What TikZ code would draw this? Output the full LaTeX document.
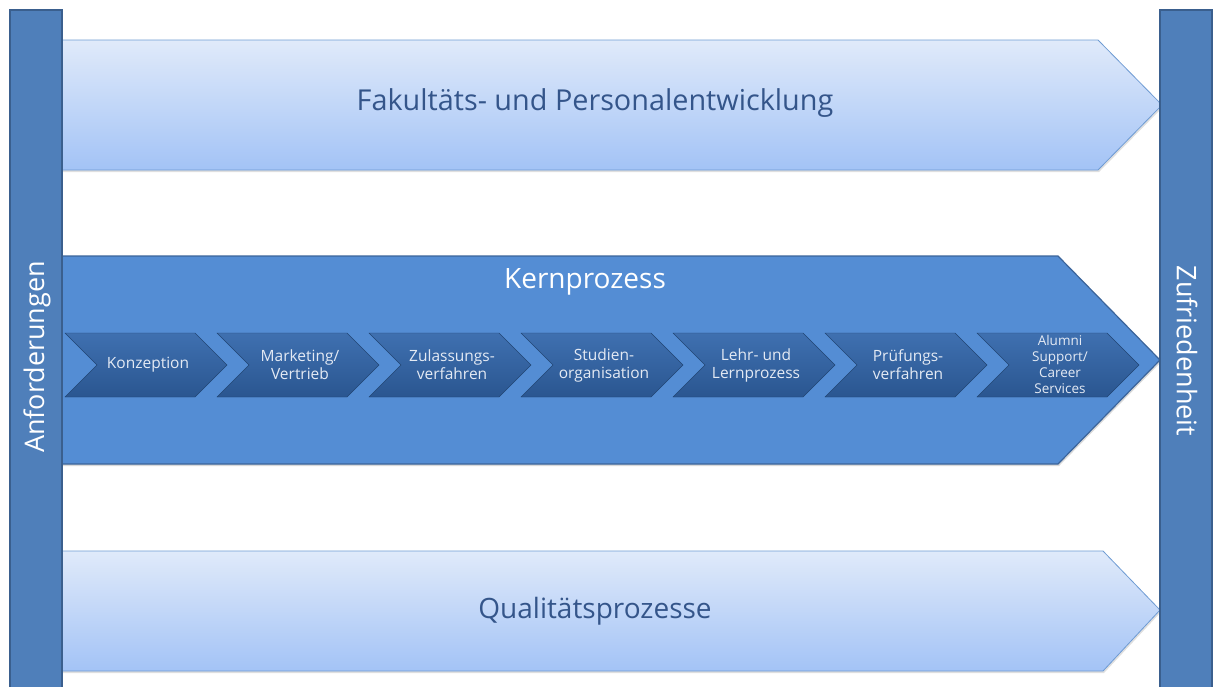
\documentclass[tikz,border=0pt]{standalone}
\usepackage{fontspec}
\setmainfont{Open Sans}
\usetikzlibrary{shadows}
\definecolor{barfill}{HTML}{4F7FBA}
\definecolor{barline}{HTML}{3A5F8E}
\definecolor{lighttop}{HTML}{E0EAFA}
\definecolor{lightbot}{HTML}{A3C3F6}
\definecolor{lightline}{HTML}{6E9BD3}
\definecolor{midfill}{HTML}{548DD4}
\definecolor{midline}{HTML}{3B649A}
\definecolor{chevtop}{HTML}{3F70B0}
\definecolor{chevbot}{HTML}{2A5690}
\definecolor{darktext}{HTML}{34558A}
\definecolor{chevtext}{HTML}{E4EAF4}
\tikzset{
  sidebar/.style={fill=barfill,draw=barline,line width=1.2pt},
  lightarrow/.style={top color=lighttop,bottom color=lightbot,draw=lightline,line width=0.8pt,
     drop shadow={shadow xshift=1pt,shadow yshift=-2pt,opacity=0.25}},
  midarrow/.style={fill=midfill,draw=midline,line width=1.2pt,
     drop shadow={shadow xshift=1pt,shadow yshift=-2pt,opacity=0.3}},
  chevron/.style={top color=chevtop,bottom color=chevbot,draw=chevbot!80!black,line width=0.4pt},
  bigtext/.style={font=\fontsize{28}{32}\selectfont,text=darktext},
  sidetext/.style={font=\fontsize{27}{30}\selectfont,text=white},
  chevlabel/.style={font=\fontsize{15.5}{18}\selectfont,text=chevtext,align=center},
}
\begin{document}
\begin{tikzpicture}[x=1pt,y=-1pt]
\useasboundingbox (0,0) rectangle (1214,686);
% top light arrow
\path[lightarrow] (62,40) -- (1098,40) -- (1162,105) -- (1098,170) -- (62,170) -- cycle;
\node[bigtext,font=\fontsize{28.8}{32}\selectfont] (fak) at (595,103) {Fakultäts- und Personalentwicklung};
% middle arrow
\path[midarrow] (62,256) -- (1058,256) -- (1160,360) -- (1058,464) -- (62,464) -- cycle;
\node[font=\fontsize{28}{32}\selectfont,text=white] (kern) at (585,282) {Kernprozess};
% chevrons
\foreach \i/\t in {0/{Konzeption},1/{Marketing/\\Vertrieb},2/{Zulassungs-\\verfahren},
   3/{Studien-\\organisation},4/{Lehr- und\\Lernprozess},5/{Prüfungs-\\verfahren}}{
  \path[chevron] ({65+152*\i},333) -- ++(130,0) -- ++(32,32) -- ++(-32,32) -- ++(-130,0) -- ++(32,-32) -- cycle;
  \node[chevlabel] (c\i) at ({148+152*\i},365) {\t};
}
\path[chevron] ({65+152*6},333) -- ++(130,0) -- ++(32,32) -- ++(-32,32) -- ++(-130,0) -- ++(32,-32) -- cycle;
\node[chevlabel,font=\fontsize{13.5}{16}\selectfont] (c6) at ({148+152*6},364) {Alumni\\Support/\\Career\\Services};
% bottom light arrow
\path[lightarrow] (62,551) -- (1103,551) -- (1160,610) -- (1103,671) -- (62,671) -- cycle;
\node[bigtext] (qual) at (595,611) {Qualitätsprozesse};
% side bars
\path[sidebar] (10,10) rectangle (62,692);
\path[sidebar] (1160,10) rectangle (1212,692);
\node[sidetext,rotate=90] (anf) at (37,357) {Anforderungen};
\node[sidetext,rotate=-90] (zuf) at (1187,351) {Zufriedenheit};
\end{tikzpicture}
\end{document}
